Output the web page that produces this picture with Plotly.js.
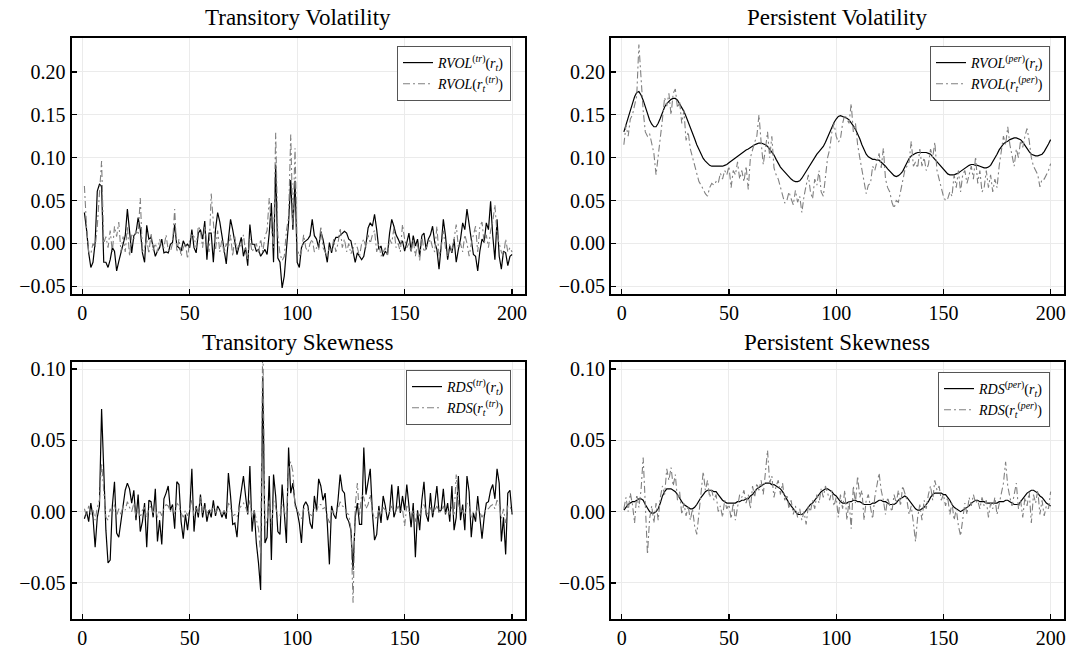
<!DOCTYPE html>
<html><head><meta charset="utf-8">
<script src="https://cdn.plot.ly/plotly-3.0.1.min.js"></script>
<style>html,body{margin:0;padding:0;background:#fff}#chart{width:1067px;height:650px}</style>
</head><body><div id="chart"></div>
<script>
const t = Array.from({length:200},(_,i)=>i+1);
const xTicks=[0,50,100,150,200];
const volTicks=[-0.05,0,0.05,0.10,0.15,0.20];
const skewTicks=[-0.05,0,0.05,0.10];
const panelTitles=["Transitory Volatility","Persistent Volatility","Transitory Skewness","Persistent Skewness"];
const legendNames=[
 ["<i>RVOL</i><sup>(<i>tr</i>)</sup>(<i>r</i><sub><i>t</i></sub>)","<i>RVOL</i>(<i>r</i><sub><i>t</i></sub><sup>(<i>tr</i>)</sup>)"],
 ["<i>RVOL</i><sup>(<i>per</i>)</sup>(<i>r</i><sub><i>t</i></sub>)","<i>RVOL</i>(<i>r</i><sub><i>t</i></sub><sup>(<i>per</i>)</sup>)"],
 ["<i>RDS</i><sup>(<i>tr</i>)</sup>(<i>r</i><sub><i>t</i></sub>)","<i>RDS</i>(<i>r</i><sub><i>t</i></sub><sup>(<i>tr</i>)</sup>)"],
 ["<i>RDS</i><sup>(<i>per</i>)</sup>(<i>r</i><sub><i>t</i></sub>)","<i>RDS</i>(<i>r</i><sub><i>t</i></sub><sup>(<i>per</i>)</sup>)"]
];

const rvolTr=[0.036,0.016,-0.011,-0.028,-0.022,0.001,0.061,0.069,0.067,-0.022,
-0.022,-0.028,-0.019,-0.005,-0.009,-0.032,-0.021,-0.011,-0.003,0.009,
0.040,0.010,-0.011,0.009,0.012,0.030,0.016,-0.011,-0.022,0.021,
0.005,0.007,-0.003,-0.015,-0.009,-0.005,0.005,-0.011,-0.010,-0.011,
-0.001,0.001,0.022,-0.003,-0.005,-0.009,0.003,-0.003,-0.001,-0.005,
0.016,-0.005,-0.011,0.012,0.016,0.005,0.026,-0.019,0.012,0.012,
-0.022,0.016,0.036,0.025,0.009,-0.011,-0.024,0.005,0.028,0.016,
0.003,-0.013,-0.003,0.007,-0.015,-0.005,-0.026,0.022,-0.001,-0.001,
-0.009,-0.007,-0.015,-0.011,-0.007,-0.013,0.012,0.047,-0.022,0.092,
-0.017,-0.022,-0.052,-0.038,-0.007,0.024,0.074,0.016,0.073,-0.022,
-0.028,-0.005,0.001,0.003,0.005,0.009,0.028,0.009,0.005,-0.005,
0.014,0.005,-0.011,-0.022,0.001,-0.011,0.001,0.007,0.007,0.009,
0.012,0.014,0.012,0.005,0.003,-0.009,-0.022,-0.011,-0.015,-0.019,
-0.015,-0.001,0.018,0.024,0.020,0.034,0.016,-0.007,-0.003,-0.015,
-0.009,-0.013,0.012,0.028,0.020,0.010,0.005,-0.001,0.003,-0.009,
0.001,0.012,-0.009,0.009,-0.003,0.005,-0.015,0.009,0.012,-0.007,
0.005,0.010,0.020,0.001,-0.007,-0.030,-0.003,0.028,0.009,-0.019,
-0.003,-0.011,0.005,-0.022,-0.007,0.005,0.024,0.016,0.040,0.020,
0.007,-0.013,-0.015,-0.032,-0.009,0.005,0.001,0.024,0.016,0.049,
0.009,-0.019,0.028,-0.015,-0.030,-0.009,-0.011,-0.026,-0.015,-0.013];

const rvolTrRet=[0.067,0.020,-0.010,-0.012,0.000,-0.005,0.020,0.060,0.096,0.000,
0.008,-0.005,0.015,-0.010,0.020,0.008,0.025,-0.010,0.008,-0.010,
0.020,-0.015,0.010,0.005,0.015,0.010,0.053,-0.010,-0.005,0.005,
-0.012,0.012,-0.008,0.000,-0.010,0.005,-0.005,-0.005,0.010,-0.008,
-0.010,0.000,0.040,-0.010,0.005,-0.015,-0.005,0.000,-0.018,0.005,
0.010,0.008,-0.005,0.020,0.015,-0.005,0.020,0.000,-0.010,0.058,
0.020,-0.008,0.015,-0.010,0.005,-0.012,0.000,-0.005,0.010,-0.015,
0.008,-0.008,0.000,-0.005,0.010,-0.010,-0.018,0.005,-0.010,-0.005,
0.000,-0.012,0.005,-0.010,0.008,0.015,0.053,0.020,-0.005,0.129,
0.010,-0.012,-0.020,-0.015,0.015,0.030,0.127,0.020,0.111,-0.005,
-0.015,-0.010,0.010,-0.005,-0.010,0.000,0.005,-0.010,-0.005,-0.008,
0.020,-0.005,-0.010,-0.015,-0.005,-0.010,0.005,-0.010,0.000,0.018,
-0.005,0.005,-0.010,0.000,-0.012,-0.005,0.000,-0.005,-0.015,0.000,
0.005,-0.005,0.010,0.000,0.010,0.015,-0.010,0.000,-0.015,-0.010,
-0.005,-0.015,0.005,0.000,0.018,-0.005,0.000,-0.010,0.022,0.005,
-0.005,0.000,-0.010,0.005,-0.015,0.000,-0.020,0.010,-0.010,-0.005,
0.000,0.005,-0.005,-0.010,0.020,-0.015,-0.005,0.015,-0.005,-0.015,
0.000,-0.010,0.005,0.022,-0.005,0.000,-0.010,0.010,0.000,-0.015,
0.000,0.010,0.020,-0.010,0.020,0.025,0.000,0.010,-0.005,0.015,
0.025,0.045,0.010,0.000,-0.010,-0.015,0.005,-0.010,-0.005,-0.010];

const rvolPer=[0.130,0.139,0.148,0.156,0.163,0.171,0.176,0.177,0.173,0.167,
0.159,0.151,0.144,0.139,0.136,0.136,0.140,0.146,0.153,0.159,
0.163,0.166,0.168,0.169,0.169,0.167,0.163,0.159,0.154,0.148,
0.142,0.136,0.129,0.122,0.115,0.109,0.104,0.099,0.096,0.093,
0.091,0.090,0.090,0.090,0.090,0.090,0.090,0.091,0.092,0.094,
0.096,0.097,0.099,0.101,0.103,0.105,0.107,0.109,0.110,0.112,
0.113,0.115,0.116,0.117,0.117,0.116,0.115,0.113,0.110,0.107,
0.103,0.098,0.093,0.089,0.086,0.083,0.080,0.078,0.075,0.073,
0.072,0.072,0.073,0.076,0.080,0.084,0.088,0.093,0.097,0.101,
0.104,0.107,0.110,0.113,0.118,0.124,0.130,0.136,0.141,0.145,
0.148,0.149,0.148,0.147,0.146,0.144,0.141,0.137,0.133,0.128,
0.122,0.115,0.109,0.104,0.101,0.099,0.098,0.098,0.097,0.097,
0.095,0.093,0.090,0.087,0.084,0.082,0.079,0.078,0.079,0.081,
0.084,0.089,0.094,0.099,0.102,0.104,0.105,0.106,0.106,0.106,
0.106,0.106,0.105,0.104,0.101,0.098,0.095,0.092,0.089,0.086,
0.083,0.081,0.080,0.080,0.080,0.081,0.082,0.084,0.086,0.088,
0.090,0.091,0.092,0.092,0.091,0.091,0.090,0.089,0.088,0.088,
0.089,0.091,0.095,0.099,0.104,0.109,0.113,0.116,0.118,0.119,
0.121,0.122,0.123,0.123,0.122,0.121,0.118,0.114,0.111,0.107,
0.104,0.103,0.102,0.102,0.103,0.104,0.107,0.111,0.116,0.121];

const rvolPerRet=[0.115,0.138,0.125,0.145,0.150,0.160,0.172,0.232,0.190,0.155,
0.130,0.125,0.128,0.115,0.105,0.080,0.100,0.125,0.145,0.170,
0.160,0.175,0.150,0.175,0.180,0.158,0.165,0.140,0.155,0.120,
0.130,0.110,0.100,0.092,0.080,0.072,0.068,0.062,0.058,0.055,
0.065,0.070,0.068,0.072,0.070,0.082,0.075,0.085,0.080,0.090,
0.065,0.085,0.080,0.095,0.075,0.085,0.072,0.090,0.063,0.100,
0.110,0.118,0.125,0.150,0.118,0.092,0.110,0.130,0.100,0.125,
0.088,0.080,0.075,0.065,0.055,0.047,0.050,0.060,0.052,0.045,
0.062,0.048,0.055,0.036,0.055,0.068,0.080,0.060,0.052,0.075,
0.068,0.085,0.060,0.055,0.080,0.100,0.110,0.130,0.140,0.125,
0.118,0.122,0.140,0.150,0.145,0.140,0.163,0.130,0.140,0.115,
0.100,0.085,0.075,0.058,0.068,0.070,0.090,0.085,0.095,0.105,
0.088,0.111,0.075,0.065,0.060,0.048,0.041,0.050,0.048,0.060,
0.072,0.085,0.090,0.095,0.119,0.090,0.095,0.088,0.110,0.090,
0.100,0.085,0.092,0.110,0.100,0.118,0.085,0.075,0.062,0.055,
0.050,0.052,0.060,0.055,0.080,0.065,0.085,0.060,0.080,0.085,
0.070,0.080,0.090,0.075,0.101,0.070,0.085,0.060,0.065,0.085,
0.065,0.080,0.060,0.075,0.065,0.090,0.110,0.125,0.115,0.136,
0.115,0.100,0.090,0.110,0.100,0.120,0.112,0.125,0.134,0.120,
0.100,0.090,0.085,0.080,0.066,0.075,0.075,0.080,0.085,0.093];

const rdsTr=[-0.005,0.000,-0.007,0.006,-0.004,-0.025,-0.004,0.004,0.072,0.022,
-0.013,-0.036,-0.034,0.004,0.021,-0.015,-0.018,-0.007,0.006,0.015,
0.020,0.016,0.006,0.015,-0.006,0.012,-0.014,-0.007,0.006,-0.025,
0.008,0.007,-0.004,0.016,-0.021,-0.006,-0.023,0.009,0.013,0.018,
0.001,0.005,-0.012,0.021,0.019,-0.007,-0.019,-0.002,-0.013,0.001,
0.030,-0.014,0.004,-0.004,0.012,-0.004,0.006,-0.007,0.001,-0.004,
0.008,-0.003,0.004,0.001,-0.004,0.000,-0.005,0.027,0.011,-0.009,
-0.008,-0.018,0.004,0.013,0.025,0.011,-0.002,0.032,-0.014,0.001,
-0.022,-0.036,-0.055,0.095,-0.022,-0.018,0.025,-0.034,0.026,0.011,
-0.014,-0.016,0.019,-0.001,-0.022,0.045,0.013,0.020,0.006,0.000,
-0.008,-0.022,0.004,0.007,0.004,-0.008,-0.012,0.011,0.001,0.023,
0.018,0.008,0.013,-0.008,-0.037,0.004,-0.002,-0.005,0.008,0.026,
0.015,0.013,-0.004,-0.007,-0.013,-0.041,-0.004,0.006,-0.009,-0.009,
0.045,0.012,0.021,0.030,-0.001,-0.020,-0.016,0.004,-0.008,0.011,
0.004,-0.006,0.000,0.019,-0.004,0.001,0.018,-0.001,0.011,0.001,
0.019,0.005,-0.011,0.006,-0.032,0.001,-0.013,0.008,0.021,-0.002,
-0.007,0.013,-0.004,0.005,0.018,0.000,0.001,0.016,-0.002,0.006,
-0.007,0.018,-0.013,-0.004,0.025,-0.006,0.005,-0.013,0.025,0.014,
-0.018,-0.001,-0.007,0.011,-0.002,-0.019,-0.004,0.006,0.007,0.015,
0.019,0.009,0.030,0.020,-0.021,-0.004,-0.030,0.013,0.015,-0.002];

const rdsTrRet=[0.002,-0.003,0.004,-0.002,0.001,-0.006,0.003,0.008,0.034,0.012,
-0.004,-0.006,0.002,-0.001,0.005,-0.003,0.002,-0.002,0.004,0.001,
0.007,0.003,0.000,0.006,-0.003,0.002,-0.004,0.001,0.003,-0.004,
0.002,0.004,-0.001,0.003,-0.004,0.001,-0.003,0.002,0.005,0.004,
0.000,0.003,-0.002,0.006,0.004,-0.001,-0.004,0.001,-0.003,0.002,
0.008,-0.003,0.003,-0.001,0.010,-0.001,0.004,-0.002,0.002,0.000,
0.004,-0.001,0.002,0.001,-0.002,0.001,-0.002,0.006,0.003,-0.003,
-0.002,-0.004,0.002,0.004,0.006,0.003,-0.001,0.008,-0.004,0.001,
-0.006,-0.012,-0.030,0.125,-0.010,-0.006,0.008,-0.010,0.008,0.003,
-0.004,-0.003,0.005,0.001,-0.006,0.030,0.035,0.028,0.004,0.001,
-0.002,-0.005,0.002,0.002,0.001,-0.002,-0.003,0.003,0.000,0.005,
0.005,0.002,0.003,-0.002,-0.008,0.001,-0.001,-0.001,0.002,0.007,
0.004,0.003,-0.001,-0.002,-0.012,-0.064,0.004,0.020,-0.003,0.012,
0.010,0.002,0.005,0.012,0.000,-0.005,-0.004,0.001,-0.002,0.003,
0.001,-0.001,0.000,0.004,-0.001,0.000,0.004,0.000,0.002,-0.010,
0.004,0.001,-0.003,0.001,-0.007,0.000,-0.003,0.002,0.005,0.000,
-0.002,0.003,-0.001,0.001,0.004,0.000,0.000,0.004,-0.001,0.001,
-0.002,0.004,-0.003,0.026,0.006,-0.001,0.001,-0.003,0.006,0.004,
-0.004,0.000,-0.002,0.003,-0.001,-0.004,-0.001,0.002,0.002,0.004,
0.005,0.002,0.008,0.005,-0.005,0.002,-0.008,0.004,0.004,-0.001];

const rdsPer=[0.001,0.003,0.005,0.006,0.007,0.007,0.008,0.009,0.009,0.008,
0.005,0.002,0.000,-0.001,-0.001,0.000,0.002,0.006,0.011,0.014,
0.016,0.016,0.016,0.015,0.014,0.012,0.009,0.007,0.005,0.004,
0.003,0.002,0.002,0.003,0.005,0.008,0.010,0.012,0.014,0.015,
0.015,0.015,0.014,0.014,0.012,0.010,0.008,0.007,0.006,0.006,
0.006,0.006,0.006,0.007,0.007,0.008,0.008,0.009,0.009,0.011,
0.012,0.014,0.016,0.017,0.018,0.019,0.020,0.020,0.020,0.019,
0.019,0.018,0.017,0.016,0.014,0.011,0.009,0.006,0.004,0.002,
0.000,-0.002,-0.002,-0.002,-0.001,0.001,0.003,0.005,0.006,0.008,
0.010,0.012,0.014,0.015,0.016,0.016,0.015,0.014,0.012,0.011,
0.009,0.007,0.006,0.006,0.006,0.007,0.007,0.008,0.008,0.007,
0.007,0.006,0.005,0.005,0.005,0.005,0.006,0.006,0.007,0.008,
0.008,0.007,0.007,0.006,0.005,0.005,0.005,0.006,0.008,0.009,
0.010,0.011,0.010,0.008,0.006,0.004,0.002,0.001,0.001,0.002,
0.003,0.005,0.007,0.010,0.012,0.013,0.013,0.013,0.013,0.012,
0.012,0.010,0.008,0.005,0.003,0.002,0.001,0.000,0.001,0.002,
0.003,0.004,0.006,0.007,0.008,0.008,0.007,0.007,0.007,0.006,
0.006,0.006,0.006,0.006,0.006,0.007,0.007,0.007,0.008,0.008,
0.007,0.006,0.005,0.005,0.005,0.007,0.009,0.011,0.013,0.014,
0.015,0.015,0.014,0.013,0.011,0.010,0.008,0.006,0.005,0.004];

const rdsPerRet=[0.002,0.010,0.000,0.013,0.005,-0.008,0.012,0.003,0.015,0.038,
0.005,-0.030,-0.005,0.004,-0.008,0.006,-0.006,0.010,0.018,0.012,
0.030,0.022,0.031,0.018,0.026,0.008,0.014,-0.002,0.006,-0.003,
0.004,-0.006,0.002,-0.010,-0.016,-0.002,0.012,0.028,0.015,0.022,
0.010,0.015,0.008,0.012,0.000,0.004,-0.004,0.008,0.002,0.005,
-0.005,0.006,-0.006,0.004,0.012,0.010,0.015,0.006,0.012,0.002,
0.018,0.010,0.020,0.015,0.022,0.012,0.030,0.043,0.020,0.025,
0.010,0.018,0.022,0.012,0.020,0.008,0.012,0.002,0.008,-0.002,
0.004,-0.004,0.002,-0.006,0.000,-0.009,0.004,0.000,0.008,0.002,
0.012,0.006,0.016,0.010,0.018,0.012,0.008,0.015,0.004,0.010,
-0.004,0.012,0.002,0.015,-0.006,0.008,-0.012,0.018,0.006,0.025,
0.010,0.015,-0.006,0.008,0.012,0.003,-0.005,0.010,0.018,0.027,
0.015,0.008,-0.002,0.010,0.004,0.000,0.012,0.006,0.015,0.004,
0.018,0.012,0.008,-0.002,0.004,-0.008,-0.021,-0.004,0.005,-0.006,
0.008,0.002,0.012,0.018,0.008,0.022,0.015,0.018,0.008,0.012,
0.004,0.010,-0.002,0.006,-0.006,0.002,-0.010,-0.017,-0.004,0.006,
-0.002,0.010,0.004,0.012,0.006,0.008,0.002,0.010,0.004,0.008,
-0.004,0.006,0.002,0.010,-0.002,0.005,0.012,0.020,0.035,0.018,
0.010,0.004,0.012,0.020,0.002,0.008,-0.004,0.010,0.004,0.014,
-0.008,0.012,0.006,0.015,-0.002,0.008,-0.003,0.004,0.002,0.014];

const W=1067,H=650;
const FONT="Liberation Serif, DejaVu Serif, serif";
const boxes=[ // [left, right, top, bottom] in pixels
 [71.5,525,38,294],[611,1063.5,38,294],[71.5,525,362,618.5],[611,1063.5,362,618.5]];
const yRanges=[[-0.059,0.2395],[-0.059,0.2395],[-0.075,0.105],[-0.075,0.105]];
const yTickSets=[volTicks,volTicks,skewTicks,skewTicks];
const seriesPairs=[[rvolTr,rvolTrRet],[rvolPer,rvolPerRet],[rdsTr,rdsTrRet],[rdsPer,rdsPerRet]];
const legendBoxes=[[511,46],[1050,46],[511,370],[1050,372]]; // right, top px

const data=[];const layout={width:W,height:H,margin:{l:0,r:0,t:0,b:0},paper_bgcolor:'#fff',plot_bgcolor:'#fff',
 font:{family:FONT,color:'#000'},annotations:[],showlegend:true};
for(let k=0;k<4;k++){
  const sfx=k===0?'':String(k+1);
  const b=boxes[k];
  const common={showline:true,mirror:true,linecolor:'#000',linewidth:2,ticks:'inside',ticklen:5,tickwidth:1.3,tickcolor:'#000',
    showgrid:true,gridcolor:'#ebebeb',gridwidth:1,zeroline:false,tickfont:{size:20,family:FONT,color:'#000'},fixedrange:true};
  layout['xaxis'+sfx]=Object.assign({},common,{domain:[b[0]/W,b[1]/W],range:[-5,206],tickvals:xTicks,ticktext:xTicks.map(String),anchor:'y'+sfx});
  layout['yaxis'+sfx]=Object.assign({},common,{domain:[1-b[3]/H,1-b[2]/H],range:yRanges[k],tickvals:yTickSets[k],tickformat:'.2f',anchor:'x'+sfx});
  const lg='legend'+sfx;
  layout[lg]={x:legendBoxes[k][0]/W,y:1-legendBoxes[k][1]/H,xanchor:'right',yanchor:'top',bgcolor:'#fff',bordercolor:'#555',borderwidth:1,
    font:{size:14,family:FONT,color:'#000'},itemwidth:30,tracegroupgap:0};
  data.push({x:t,y:seriesPairs[k][0],type:'scatter',mode:'lines',name:legendNames[k][0],xaxis:'x'+sfx,yaxis:'y'+sfx,legend:lg,
    line:{color:'#000',width:1.2}});
  data.push({x:t,y:seriesPairs[k][1],type:'scatter',mode:'lines',name:legendNames[k][1],xaxis:'x'+sfx,yaxis:'y'+sfx,legend:lg,
    line:{color:'#808080',width:1.1,dash:'7px,3px,2px,3px'}});
  layout.annotations.push({text:panelTitles[k],xref:'paper',yref:'paper',x:(b[0]+b[1])/2/W,y:1-(b[2]-20)/H,xanchor:'center',yanchor:'middle',
    showarrow:false,font:{size:23,family:FONT,color:'#000'}});
}
Plotly.newPlot('chart',data,layout,{displayModeBar:false,staticPlot:true});
</script></body></html>
